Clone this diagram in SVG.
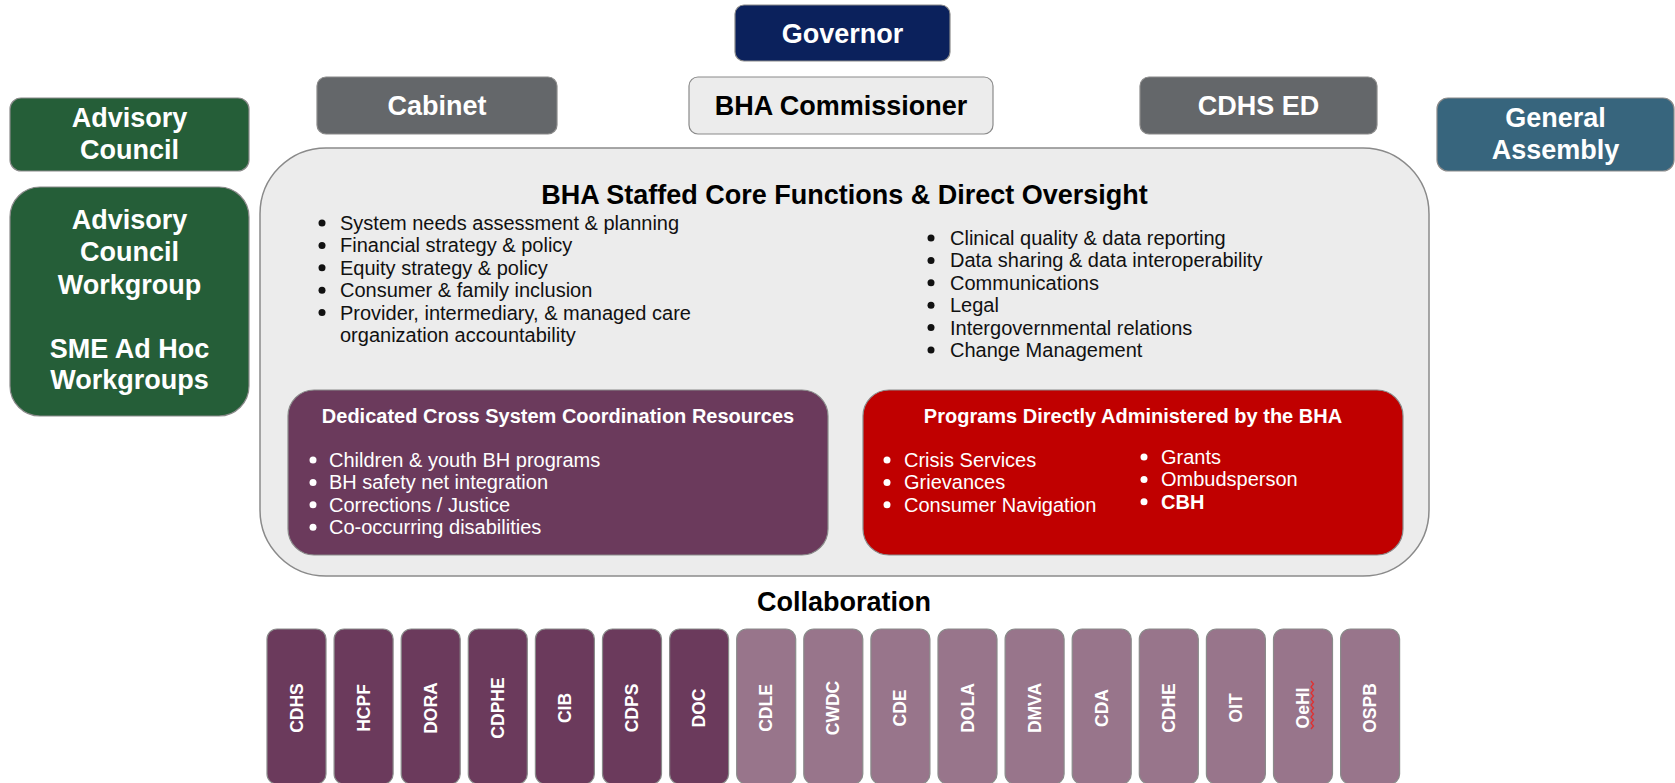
<svg xmlns="http://www.w3.org/2000/svg" width="1675" height="783" viewBox="0 0 1675 783">
<style>
.lbl{font-family:"Liberation Sans",Arial,sans-serif;font-weight:bold;font-size:27px;fill:#fff;text-anchor:middle}
.dark{fill:#000}
.body{font-family:"Liberation Sans",Arial,sans-serif;font-size:20px;fill:#111}
.wbody{font-family:"Liberation Sans",Arial,sans-serif;font-size:20px;fill:#fff}
.sub{font-family:"Liberation Sans",Arial,sans-serif;font-weight:bold;font-size:20px;fill:#fff;text-anchor:middle}
.agency{font-family:"Liberation Sans",Arial,sans-serif;font-weight:bold;font-size:17.5px;fill:#fff;text-anchor:middle}
.box{stroke:#8a8a8a;stroke-width:1.2}
.ag1{fill:#6b3a5c;stroke:#8a8a8a;stroke-width:1.2}
.ag2{fill:#98758b;stroke:#8a8a8a;stroke-width:1.2}
</style>
<rect width="1675" height="783" fill="#fff"/>

<g id="governor">
<rect class="box" x="735" y="5" width="215" height="56" rx="9" fill="#0b215c"/>
<text class="lbl" x="842.5" y="42.5">Governor</text>
</g>
<g id="cabinet">
<rect class="box" x="317" y="77" width="240" height="57" rx="9" fill="#64676a"/>
<text class="lbl" x="437" y="115">Cabinet</text>
</g>
<g id="bha-commissioner">
<rect class="box" x="689" y="77" width="304" height="57" rx="9" fill="#ececec"/>
<text class="lbl dark" x="841" y="115">BHA Commissioner</text>
</g>
<g id="cdhs-ed">
<rect class="box" x="1140" y="77" width="237" height="57" rx="9" fill="#64676a"/>
<text class="lbl" x="1258.5" y="115">CDHS ED</text>
</g>
<g id="advisory-council">
<rect class="box" x="10" y="98" width="239" height="73" rx="11" fill="#255e38"/>
<text class="lbl" x="129.5" y="127">Advisory</text>
<text class="lbl" x="129.5" y="159">Council</text>
</g>
<g id="general-assembly">
<rect class="box" x="1437" y="98" width="237" height="73" rx="11" fill="#37657d"/>
<text class="lbl" x="1555.5" y="127">General</text>
<text class="lbl" x="1555.5" y="159">Assembly</text>
</g>
<g id="workgroups">
<rect class="box" x="10" y="187" width="239" height="229" rx="30" fill="#255e38"/>
<text class="lbl" x="129.5" y="228.5">Advisory</text>
<text class="lbl" x="129.5" y="261">Council</text>
<text class="lbl" x="129.5" y="293.5">Workgroup</text>
<text class="lbl" x="129.5" y="357.5">SME Ad Hoc</text>
<text class="lbl" x="129.5" y="389">Workgroups</text>
</g>

<g id="core-functions">
<rect x="260" y="148" width="1169" height="428" rx="66" fill="#ececec" stroke="#8a8a8a" stroke-width="1.5"/>
<text class="lbl dark" x="844.5" y="204">BHA Staffed Core Functions &amp; Direct Oversight</text>
<g fill="#111">
<circle cx="322" cy="223" r="3.5"/><circle cx="322" cy="245.4" r="3.5"/><circle cx="322" cy="267.8" r="3.5"/><circle cx="322" cy="290.2" r="3.5"/><circle cx="322" cy="312.6" r="3.5"/>
<circle cx="931" cy="238" r="3.5"/><circle cx="931" cy="260.4" r="3.5"/><circle cx="931" cy="282.8" r="3.5"/><circle cx="931" cy="305.2" r="3.5"/><circle cx="931" cy="327.6" r="3.5"/><circle cx="931" cy="350" r="3.5"/>
</g>
<text class="body" x="340" y="230">System needs assessment &amp; planning</text>
<text class="body" x="340" y="252.4">Financial strategy &amp; policy</text>
<text class="body" x="340" y="274.8">Equity strategy &amp; policy</text>
<text class="body" x="340" y="297.2">Consumer &amp; family inclusion</text>
<text class="body" x="340" y="319.6">Provider, intermediary, &amp; managed care</text>
<text class="body" x="340" y="342">organization accountability</text>
<text class="body" x="950" y="245">Clinical quality &amp; data reporting</text>
<text class="body" x="950" y="267.4">Data sharing &amp; data interoperability</text>
<text class="body" x="950" y="289.8">Communications</text>
<text class="body" x="950" y="312.2">Legal</text>
<text class="body" x="950" y="334.6">Intergovernmental relations</text>
<text class="body" x="950" y="357">Change Management</text>
</g>

<g id="cross-system">
<rect x="288" y="390" width="540" height="165" rx="26" fill="#6b3a5c" stroke="#8a8a8a" stroke-width="1.2"/>
<text class="sub" x="558" y="423">Dedicated Cross System Coordination Resources</text>
<g fill="#fff">
<circle cx="313" cy="460" r="3.5"/><circle cx="313" cy="482.4" r="3.5"/><circle cx="313" cy="504.8" r="3.5"/><circle cx="313" cy="527.2" r="3.5"/>
</g>
<text class="wbody" x="329" y="467">Children &amp; youth BH programs</text>
<text class="wbody" x="329" y="489.4">BH safety net integration</text>
<text class="wbody" x="329" y="511.8">Corrections / Justice</text>
<text class="wbody" x="329" y="534.2">Co-occurring disabilities</text>
</g>

<g id="bha-programs">
<rect x="863" y="390" width="540" height="165" rx="26" fill="#c00000" stroke="#8a8a8a" stroke-width="1.2"/>
<text class="sub" x="1133" y="423">Programs Directly Administered by the BHA</text>
<g fill="#fff">
<circle cx="887" cy="460" r="3.5"/><circle cx="887" cy="482.4" r="3.5"/><circle cx="887" cy="504.8" r="3.5"/>
<circle cx="1144" cy="457" r="3.5"/><circle cx="1144" cy="479.4" r="3.5"/><circle cx="1144" cy="501.8" r="3.5"/>
</g>
<text class="wbody" x="904" y="467">Crisis Services</text>
<text class="wbody" x="904" y="489.4">Grievances</text>
<text class="wbody" x="904" y="511.8">Consumer Navigation</text>
<text class="wbody" x="1161" y="464">Grants</text>
<text class="wbody" x="1161" y="486.4">Ombudsperson</text>
<text class="wbody" x="1161" y="508.8" font-weight="bold">CBH</text>
</g>

<g id="collaboration">
<text class="lbl dark" x="844" y="610.5">Collaboration</text>
</g>

<g id="agencies">
<g id="ag-cdhs"><rect class="ag1" x="267" y="629" width="59" height="155" rx="10"/><text class="agency" transform="translate(296.5,708) rotate(-90)" dy="6">CDHS</text></g>
<g id="ag-hcpf"><rect class="ag1" x="334.1" y="629" width="59" height="155" rx="10"/><text class="agency" transform="translate(363.6,708) rotate(-90)" dy="6">HCPF</text></g>
<g id="ag-dora"><rect class="ag1" x="401.2" y="629" width="59" height="155" rx="10"/><text class="agency" transform="translate(430.7,708) rotate(-90)" dy="6">DORA</text></g>
<g id="ag-cdphe"><rect class="ag1" x="468.3" y="629" width="59" height="155" rx="10"/><text class="agency" transform="translate(497.8,708) rotate(-90)" dy="6">CDPHE</text></g>
<g id="ag-cib"><rect class="ag1" x="535.4" y="629" width="59" height="155" rx="10"/><text class="agency" transform="translate(564.9,708) rotate(-90)" dy="6">CIB</text></g>
<g id="ag-cdps"><rect class="ag1" x="602.5" y="629" width="59" height="155" rx="10"/><text class="agency" transform="translate(632,708) rotate(-90)" dy="6">CDPS</text></g>
<g id="ag-doc"><rect class="ag1" x="669.6" y="629" width="59" height="155" rx="10"/><text class="agency" transform="translate(699.1,708) rotate(-90)" dy="6">DOC</text></g>
<g id="ag-cdle"><rect class="ag2" x="736.7" y="629" width="59" height="155" rx="10"/><text class="agency" transform="translate(766.2,708) rotate(-90)" dy="6">CDLE</text></g>
<g id="ag-cwdc"><rect class="ag2" x="803.8" y="629" width="59" height="155" rx="10"/><text class="agency" transform="translate(833.3,708) rotate(-90)" dy="6">CWDC</text></g>
<g id="ag-cde"><rect class="ag2" x="870.9" y="629" width="59" height="155" rx="10"/><text class="agency" transform="translate(900.4,708) rotate(-90)" dy="6">CDE</text></g>
<g id="ag-dola"><rect class="ag2" x="938" y="629" width="59" height="155" rx="10"/><text class="agency" transform="translate(967.5,708) rotate(-90)" dy="6">DOLA</text></g>
<g id="ag-dmva"><rect class="ag2" x="1005.1" y="629" width="59" height="155" rx="10"/><text class="agency" transform="translate(1034.6,708) rotate(-90)" dy="6">DMVA</text></g>
<g id="ag-cda"><rect class="ag2" x="1072.2" y="629" width="59" height="155" rx="10"/><text class="agency" transform="translate(1101.7,708) rotate(-90)" dy="6">CDA</text></g>
<g id="ag-cdhe"><rect class="ag2" x="1139.3" y="629" width="59" height="155" rx="10"/><text class="agency" transform="translate(1168.8,708) rotate(-90)" dy="6">CDHE</text></g>
<g id="ag-oit"><rect class="ag2" x="1206.4" y="629" width="59" height="155" rx="10"/><text class="agency" transform="translate(1235.9,708) rotate(-90)" dy="6">OIT</text></g>
<g id="ag-oehi"><rect class="ag2" x="1273.5" y="629" width="59" height="155" rx="10" stroke="#6b3a5c"/><text class="agency" transform="translate(1303,708) rotate(-90)" dy="6">OeHI</text>
<path d="M1311,729 l2.5,-3 l-2.5,-3 l2.5,-3 l-2.5,-3 l2.5,-3 l-2.5,-3 l2.5,-3 l-2.5,-3 l2.5,-3 l-2.5,-3 l2.5,-3 l-2.5,-3 l2.5,-3 l-2.5,-3 l2.5,-3 l-2.5,-3" fill="none" stroke="#e03030" stroke-width="1.3"/></g>
<g id="ag-ospb"><rect class="ag2" x="1340.6" y="629" width="59" height="155" rx="10"/><text class="agency" transform="translate(1370.1,708) rotate(-90)" dy="6">OSPB</text></g>
</g>
<g id="connectors"></g>
</svg>
